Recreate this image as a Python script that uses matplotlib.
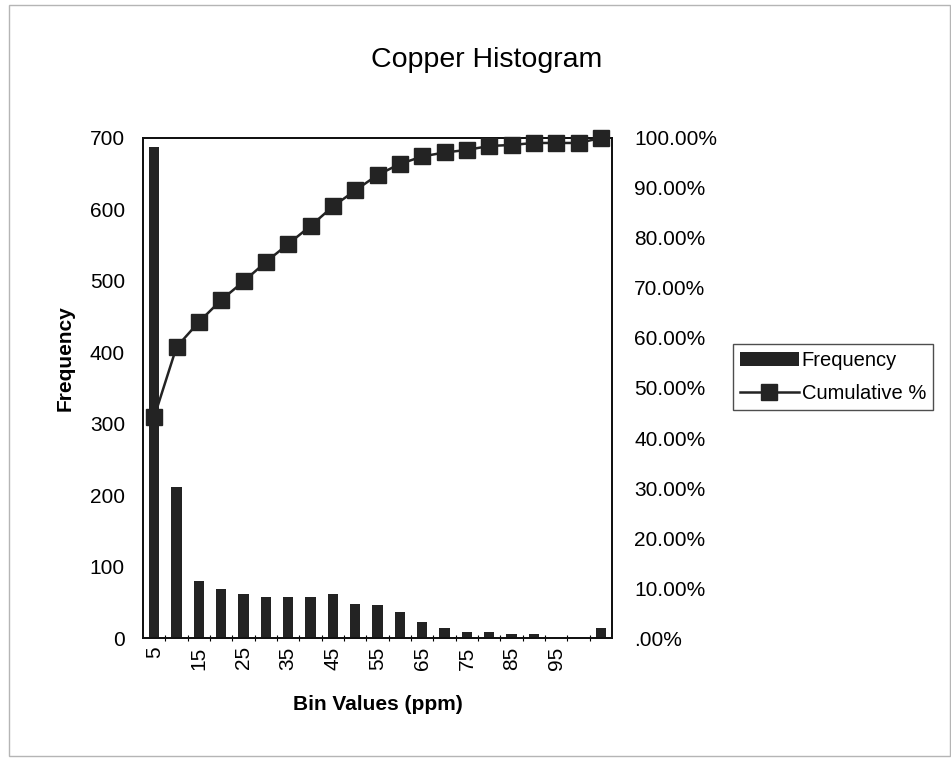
import matplotlib
matplotlib.use("Agg")
import matplotlib.pyplot as plt
from matplotlib.patches import Rectangle
from matplotlib.ticker import FixedLocator, FuncFormatter

plt.rcParams['font.family'] = ['Liberation Sans', 'DejaVu Sans']

# copper assay bins (ppm), last bin is the overflow
bins = ["5", "10", "15", "20", "25", "30", "35", "40", "45", "50",
        "55", "60", "65", "70", "75", "80", "85", "90", "95", "100", ""]
frequency = [688, 212, 80, 68, 61, 58, 57, 58, 61, 48,
             46, 36, 23, 14, 8, 9, 6, 5, 0, 0, 14]
cumulative = [44.2, 58.2, 63.2, 67.6, 71.3, 75.2, 78.8, 82.4, 86.3, 89.5,
              92.6, 94.8, 96.3, 97.1, 97.6, 98.4, 98.6, 99.0, 99.0, 99.0, 100.0]

dark = "#232323"
fig = plt.figure(figsize=(9.51, 7.61), dpi=100)
fig.patches.append(Rectangle((0.009, 0.006), 0.99, 0.987, transform=fig.transFigure,
                             fill=False, edgecolor="#b5b5b5", linewidth=1.0))

ax = fig.add_axes([0.1504, 0.1616, 0.4932, 0.6571])
x = list(range(len(bins)))
ax.bar(x, frequency, width=0.47, color=dark, label="Frequency", zorder=2)
ax.set_xlim(-0.5, len(bins) - 0.5)
ax.set_ylim(0, 700)
ax.set_yticks(range(0, 701, 100))
ax.tick_params(axis="y", length=0, labelsize=15, pad=13)

# category labels on every other bin, small ticks between bins
ax.set_xticks(x[::2])
ax.set_xticklabels(bins[::2], rotation=90, fontsize=15)
ax.tick_params(axis="x", which="major", length=0, pad=6)
ax.xaxis.set_minor_locator(FixedLocator([i + 0.5 for i in x[:-1]]))
ax.tick_params(axis="x", which="minor", length=4, width=0.8, direction="inout")

for side in ax.spines.values():
    side.set_linewidth(1.3)
    side.set_color("#111111")

ax.set_ylabel("Frequency", fontsize=15, fontweight="bold")
ax.yaxis.set_label_coords(-0.145, 0.56)
ax.set_xlabel("Bin Values (ppm)", fontsize=15, fontweight="bold")
ax.xaxis.set_label_coords(0.5, -0.113)
fig.text(487 / 951, 1 - 60 / 761, "Copper Histogram", fontsize=20.5,
         ha="center", va="center")

ax2 = ax.twinx()
ax2.plot(x, cumulative, color=dark, marker="s", markersize=11, linewidth=1.8,
         label="Cumulative %", zorder=3, clip_on=False)
ax2.set_ylim(0, 100)
ax2.set_yticks(range(0, 101, 10))
ax2.yaxis.set_major_formatter(FuncFormatter(
    lambda v, p: ".00%" if v == 0 else "%.2f%%" % v))
ax2.tick_params(axis="y", length=0, labelsize=15, pad=16)
for side in ax2.spines.values():
    side.set_linewidth(1.3)
    side.set_color("#111111")

h1, l1 = ax.get_legend_handles_labels()
h2, l2 = ax2.get_legend_handles_labels()
leg = fig.legend(h1 + h2, l1 + l2, loc="upper left",
                 bbox_to_anchor=(0.771, 0.548), fontsize=14.5, frameon=True,
                 fancybox=False, edgecolor="#222222", handlelength=2.9,
                 handletextpad=0.15, borderpad=0.35, labelspacing=0.7,
                 borderaxespad=0)
leg.get_frame().set_linewidth(1.0)

fig.savefig("out.png", dpi=100)
